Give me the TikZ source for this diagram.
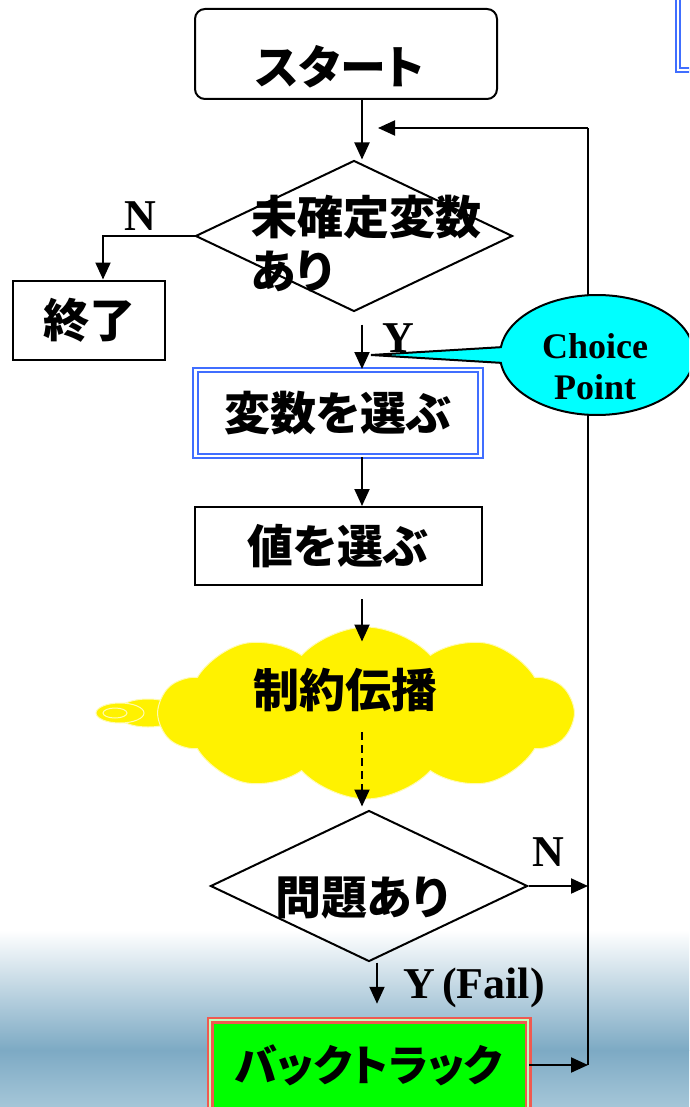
\documentclass[tikz,border=0pt]{standalone}
\usepackage{fontspec}
\setmainfont{Liberation Serif}
\newfontfamily\jp{Noto Sans CJK JP}[RawFeature=+palt, BoldFont={Noto Sans CJK JP Black}]
\usepackage{tikz}
\usetikzlibrary{positioning,shapes.geometric,shapes.symbols,shapes.callouts,arrows.meta,calc}

\definecolor{boxblue}{RGB}{64,110,255}
\definecolor{bkred}{RGB}{240,90,80}
\definecolor{bkgreen}{RGB}{0,255,0}
\definecolor{cpcyan}{RGB}{0,255,255}
\definecolor{sky}{RGB}{125,170,196}
\definecolor{skylow}{RGB}{165,198,216}

\tikzset{
	jp/.style={font=\jp\bfseries\fontsize{46}{54}\selectfont, inner sep=0pt},
	lab/.style={font=\bfseries\fontsize{44}{44}\selectfont, inner sep=0pt},
	plain/.style={draw, line width=2pt, inner sep=0pt},
	cond/.style={plain, diamond, minimum width=317pt, minimum height=151pt},
	flow/.style={line width=2pt, -{Triangle[length=17pt,width=15pt]}},
}

\begin{document}
\begin{tikzpicture}[x=1pt,y=-1pt]
	\useasboundingbox (0,0) rectangle (689,1107);
	\clip (0,0) rectangle (689,1107);
	\shade[top color=white, bottom color=sky] (0,930) rectangle (689,1050);
	\shade[top color=sky, bottom color=skylow] (0,1050) rectangle (689,1107);
	\draw[boxblue, double=white, double distance=2.5pt, line width=2pt] (678,-5) -- (678,70) -- (700,70);

	\coordinate (spine) at (362,0);
	\coordinate (rt) at (588,128);
	\coordinate (rb) at (588,1065);
	\coordinate (lt) at (378,128);
	\coordinate (cptip) at (371,355);

	\node[plain, rounded corners=10pt, minimum width=302pt, minimum height=90pt] (start) at (346,54) {};
	\node[jp] (starttxt) at (340,67) {スタート};

	\node[cond] (d1) at (354,236) {};
	\node[jp, align=left] (d1txt) at (366,244) {未確定変数\\あり};

	\node[plain, minimum width=152pt, minimum height=79pt, jp] (fin) at (89,320) {終了};

	\node[jp, draw=boxblue, double=white, double distance=2.5pt, line width=2pt, minimum width=285pt, minimum height=86pt] (var) at (338,413) {変数を選ぶ};
	\node[plain, jp, minimum width=287pt, minimum height=78pt] (val) at (338,546) {値を選ぶ};

	\fill[yellow, draw=white!70!yellow, line width=1pt] (148,713) ellipse (32 and 14);
	\fill[yellow, draw=white!70!yellow, line width=1pt] (120,713) ellipse (24 and 10);
	\draw[white!70!yellow, line width=1pt] (115,713) ellipse (12 and 5);
	\node[cloud, cloud puffs=10, cloud puff arc=95, cloud ignores aspect, fill=yellow, draw=white!70!yellow, line width=1pt, minimum width=413pt, minimum height=172pt, inner sep=0pt] (cloud) at (366,713) {};
	\node[jp] (proptxt) at (345,690) {制約伝播};

	\node[cond] (d2) at (369,886) {};
	\node[jp] (d2txt) at (362,898) {問題あり};

	\node[jp, font=\jp\bfseries\fontsize{43}{50}\selectfont, fill=bkgreen, draw=bkred, double=white!75!green, double distance=2pt, line width=2.5pt, minimum width=318pt, minimum height=90pt] (back) at (369,1065) {バックトラック};

	\draw[line width=2pt] (rb) -- (rt);
	\draw[flow] (rt) -- (lt);
	\draw[flow] (back.east) -- (rb);
	\draw[flow] (d2.east) -- (d2.east -| rb);

	\draw[flow] (start.south -| spine) -- (d1.north -| spine);
	\draw[flow] (d1.west) -| ([xshift=14pt]fin.north);
	\draw[flow] ([yshift=-12pt]d1.south -| spine) -- (var.north -| spine);
	\draw[flow] (var.south -| spine) -- (val.north -| spine);
	\draw[flow] ([yshift=-13pt]val.south -| spine) -- ([yshift=-15pt]cloud.north -| spine);
	\draw[flow, dash pattern=on 8pt off 5pt] ([yshift=-20pt]proptxt.south -| spine) -- ([yshift=3pt]d2.north -| spine);
	\draw[flow] ([xshift=8pt]d2.south) -- ([xshift=8pt,yshift=15pt]back.north);

	\node[ellipse callout, callout absolute pointer=(cptip), fill=cpcyan, draw, line width=2pt, minimum width=194pt, minimum height=120pt] (cp) at (597,355) {};
	\node[font=\bfseries\fontsize{36}{41}\selectfont, align=center, inner sep=0pt] (cptxt) at (595,367) {Choice\\Point};

	\node[lab] (n1) at (140,216) {N};
	\node[lab] (y1) at (398,338) {Y};
	\node[lab] (n2) at (548,852) {N};
	\node[lab] (yfail) at (474,988) {Y\,(Fail)};
\end{tikzpicture}
\end{document}
